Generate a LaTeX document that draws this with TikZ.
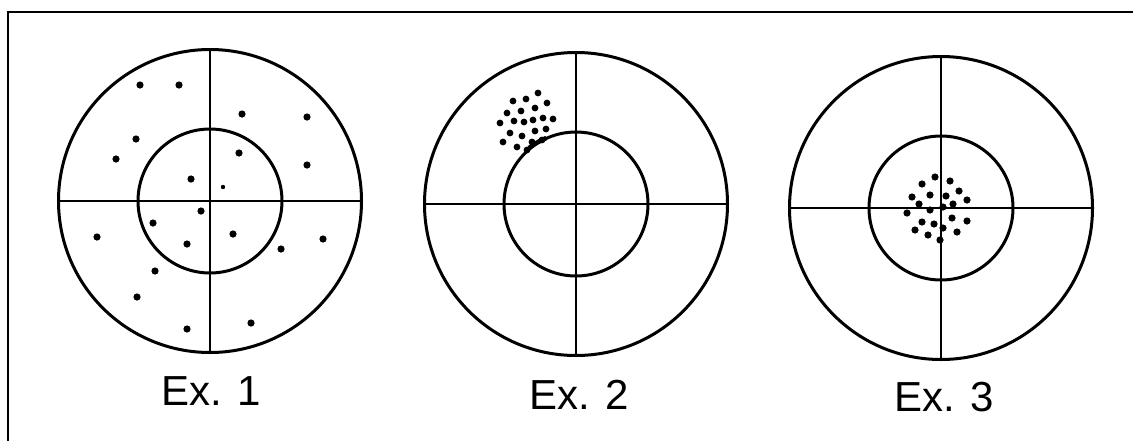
\documentclass[tikz,border=0pt]{standalone}
\usepackage{fontspec}
\setmainfont{Liberation Sans}
\begin{document}
\begin{tikzpicture}[x=1pt,y=-1pt,
  ring/.style={line width=3pt, draw=black},
  hair/.style={line width=2.8pt, draw=black},
  shot/.style={fill=black},
  lbl/.style={font=\fontsize{42}{46}\selectfont, inner sep=0pt, anchor=center}]
\useasboundingbox (0,0) rectangle (1133,440);
\fill[white] (0,0) rectangle (1133,440);
% frame (top and left edges)
\draw[line width=2pt] (1140,12) -- (7.5,12) -- (7.5,450);
% targets
\foreach \cx/\cy in {210/201, 576/204, 941/208}{
  \draw[ring] (\cx,\cy) circle[radius=151.5pt];
  \draw[ring] (\cx,\cy) circle[radius=72pt];
  \draw[hair] (\cx-152,\cy) -- (\cx+152,\cy);
  \draw[hair] (\cx,\cy-152) -- (\cx,\cy+152);
}
% shots Ex. 1
\foreach \px/\py in {140/85,179/85,242/114,307/117,136/139,116/159,239/153,307/165,191/179,
  201/211,153/223,233/234,97/237,187/244,323/239,281/249,155/271,137/297,187/329,251/323}{
  \fill[shot] (\px,\py) circle[radius=3.6pt];
}
\fill[shot] (223,187) circle[radius=2.2pt];
% shots Ex. 2
\foreach \px/\py in {538/93,513/101,526/99,547/103,521/111,535/108,507/113,500/123,514/121,
  524/122,533/120,543/118,553/119,510/133,522/136,535/131,546/129,503/142,517/147,532/142,
  542/140,527/150}{
  \fill[shot] (\px,\py) circle[radius=3.4pt];
}
\draw[line width=4.5pt] (529,148) arc[start angle=128, end angle=112, radius=72pt];
% shots Ex. 3
\foreach \px/\py in {935/177,950/181,922/184,959/191,912/197,930/195,946/196,967/200,919/204,
  953/204,943/207,930/210,907/213,952/218,967/221,922/222,934/224,943/228,915/230,957/232,
  928/235,940/240}{
  \fill[shot] (\px,\py) circle[radius=3.6pt];
}
% labels
\node[lbl] (l1) at (211,391) {Ex. 1};
\node[lbl] (l2) at (579,395) {Ex. 2};
\node[lbl] (l3) at (944,397) {Ex. 3};
\end{tikzpicture}
\end{document}
